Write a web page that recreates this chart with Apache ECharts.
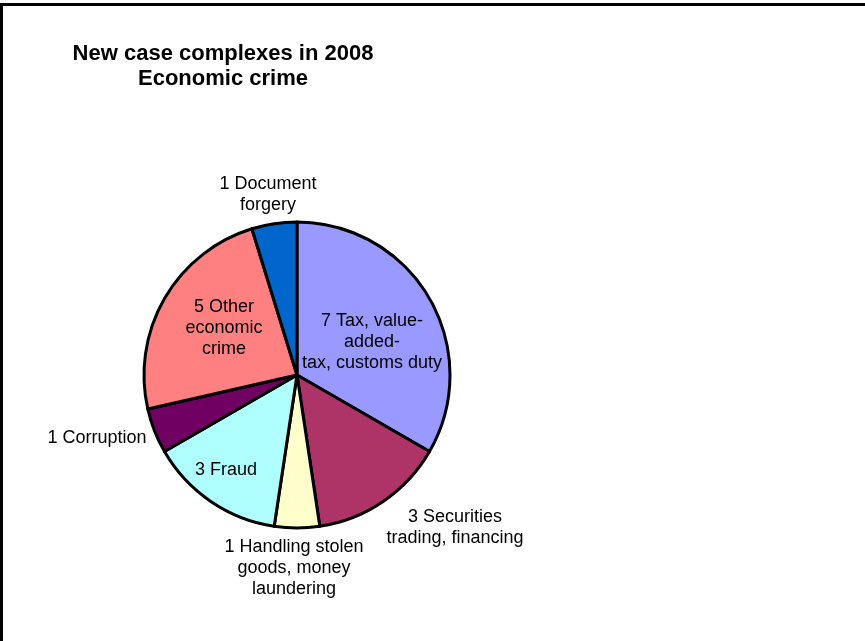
<!DOCTYPE html>
<html>
<head>
<meta charset="utf-8">
<script src="https://cdn.jsdelivr.net/npm/echarts@6/dist/echarts.min.js"></script>
<style>
  html, body { margin: 0; padding: 0; background: #fff; }
  #chart { width: 865px; height: 641px; }
</style>
</head>
<body>
<div id="chart"></div>
<script>
// Case complexes opened in 2008, economic crime, by offence type
const categories = [
  'Tax, value-added-tax, customs duty',
  'Securities trading, financing',
  'Handling stolen goods, money laundering',
  'Fraud',
  'Corruption',
  'Other economic crime',
  'Document forgery'
];
const caseCounts = [7, 3, 1, 3, 1, 5, 1];

// Wrapped label text for each slice
const labelText = [
  'Tax, value-\nadded-\ntax, customs duty',
  'Securities\ntrading, financing',
  'Handling stolen\ngoods, money\nlaundering',
  'Fraud',
  'Corruption',
  'Other\neconomic\ncrime',
  'Document\nforgery'
];

const sliceColors = ['#9999FF', '#AE3366', '#FFFFCC', '#B0FFFF', '#700062', '#FF8080', '#0066CC'];

// Label anchor points (centre of each text block)
const labelSpots = [
  [372, 342], [455, 528], [294, 568], [226, 470], [97, 438], [224, 328], [268, 195]
];

const chart = echarts.init(document.getElementById('chart'), null, { renderer: 'canvas' });

chart.setOption({
  animation: false,
  backgroundColor: '#fff',
  graphic: [
    {
      type: 'rect',
      silent: true,
      shape: { x: 1.5, y: 4.5, width: 900, height: 700 },
      style: { fill: 'none', stroke: '#000', lineWidth: 3 }
    },
    {
      type: 'text',
      silent: true,
      x: 223,
      y: 66.5,
      style: {
        text: 'New case complexes in 2008\nEconomic crime',
        fontFamily: 'Liberation Sans, Arial, sans-serif',
        fontWeight: 'bold',
        fontSize: 22,
        lineHeight: 25,
        fill: '#000',
        textAlign: 'center',
        textVerticalAlign: 'middle'
      }
    }
  ],
  series: [{
    type: 'pie',
    silent: true,
    center: [297, 375],
    radius: 153,
    startAngle: 90,
    clockwise: true,
    itemStyle: { borderColor: '#000', borderWidth: 3 },
    label: {
      show: true,
      position: 'outside',
      overflow: 'none',
      formatter: p => p.value + ' ' + labelText[p.dataIndex],
      fontFamily: 'Liberation Sans, Arial, sans-serif',
      fontSize: 18,
      lineHeight: 21,
      color: '#000',
      align: 'center'
    },
    labelLine: { show: false },
    labelLayout: p => ({
      x: labelSpots[p.dataIndex][0],
      y: labelSpots[p.dataIndex][1],
      align: 'center',
      verticalAlign: 'middle',
      width: 300
    }),
    data: categories.map((name, i) => ({
      name,
      value: caseCounts[i],
      itemStyle: { color: sliceColors[i] }
    }))
  }]
});
</script>
</body>
</html>
